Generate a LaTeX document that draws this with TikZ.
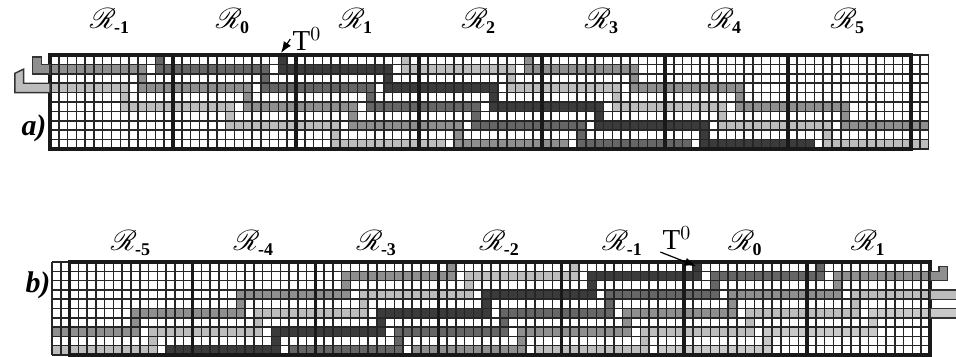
\documentclass[tikz,border=0pt]{standalone}
\usepackage{fontspec}
\setmainfont{Liberation Serif}
\usepackage{mathrsfs}
\usetikzlibrary{arrows.meta}
\definecolor{stepD}{gray}{0.23}
\definecolor{stepM}{gray}{0.40}
\definecolor{stepG}{gray}{0.56}
\definecolor{stepL}{gray}{0.74}
\definecolor{stepLL}{gray}{0.79}
\newcommand{\stairs}[2]{%
  \fill[#2] (#1,0) rectangle ++(1,1);
  \foreach \k in {0,...,4}{\fill[#2] ({#1+12*\k},{2*\k+1}) rectangle ++(13,1);}
  \foreach \k in {1,...,4}{\fill[#2] ({#1+12*\k},{2*\k}) rectangle ++(1,1);}}
\newcommand{\cellgrid}{%
  \foreach \c in {0,...,100}{\draw[gridline] (\c,0) -- (\c,10);}
  \foreach \r in {0,...,10}{\draw[gridline] (0,\r) -- (100,\r);}
  \foreach \i in {0,...,6}{\draw[regionbox] ({14*\i},0) rectangle ++(14,10);}}
\newcommand{\regname}[1]{$\mathscr{R}_{\mbox{\fontsize{9}{9}\selectfont\bfseries #1}}$}

\begin{document}
\begin{tikzpicture}[>=Latex,x=0.5bp,y=-0.5bp,gridline/.style={draw=black!85,line width=0.75bp},regionbox/.style={draw=black!90,line width=1.7bp},leadbox/.style={draw=black!80,line width=0.7bp},reglabel/.style={font=\fontsize{15}{17}\selectfont,inner sep=0pt},panel/.style={font=\fontsize{15}{18}\selectfont\bfseries\itshape,inner sep=0pt}]
\useasboundingbox (0,0) rectangle (956,356);
% a)
\begin{scope}[shift={(50,55)},x=4.393bp,y=-4.7bp]
\begin{scope}
\clip (0,0) rectangle (100,10);
\stairs{-16}{stepL}
\stairs{-2}{stepG}
\stairs{12}{stepM}
\stairs{26}{stepD}
\stairs{40}{stepL}
\stairs{54}{stepG}
\end{scope}
\cellgrid
\filldraw[leadbox,fill=stepG] (-2,0.2) -- (-1,0.2) -- (-1,1) -- (0,1) -- (0,2) -- (-2,2) -- cycle;
\filldraw[leadbox,fill=stepL] (-4,1.95) -- (-3,1.5) -- (-3,3) -- (0,3) -- (0,4) -- (-4,4) -- cycle;
\end{scope}
% b)
\begin{scope}[shift={(52,262)},x=4.39bp,y=-4.65bp,shift={(100,0)},xscale=-1]
\begin{scope}
\clip (0,0) rectangle (100,10);
\stairs{-30}{stepLL}
\stairs{-16}{stepL}
\stairs{-2}{stepG}
\stairs{12}{stepM}
\stairs{26}{stepD}
\stairs{40}{stepL}
\stairs{54}{stepG}
\end{scope}
\cellgrid
\filldraw[leadbox,fill=stepG] (-2,0.5) -- (-1,0.5) -- (-1,1) -- (0,1) -- (0,2) -- (-2,2) -- cycle;
\filldraw[leadbox,fill=stepL] (0,3) rectangle (-4,4);
\filldraw[leadbox,fill=stepLL] (0,5) rectangle (-4,6);
\end{scope}
\foreach \i/\lab in {0/-1,1/0,2/1,3/2,4/3,5/4,6/5}{\node[reglabel] (ra\i) at ({110+123*\i},21) {\regname{\lab}};}
\foreach \i/\lab in {0/-5,1/-4,2/-3,3/-2,4/-1,5/0,6/1}{\node[reglabel] (rb\i) at ({131+122.9*\i},243) {\regname{\lab}};}
\node[font=\fontsize{14.5}{16}\selectfont,inner sep=1pt] (ta) at (307,39) {T$^{0}$};
\coordinate (cella) at (281,53);
\draw[->,line width=0.6bp] (ta.west) -- (cella);
\node[font=\fontsize{14.5}{16}\selectfont,inner sep=1pt] (tb) at (677,238) {T$^{0}$};
\coordinate (cellb) at (696,266);
\draw[->,line width=0.6bp] (tb.south west) -- (cellb);
\node[panel] (pa) at (34,128) {a)};
\node[panel] (pb) at (38,285) {b)};
\end{tikzpicture}
\end{document}
